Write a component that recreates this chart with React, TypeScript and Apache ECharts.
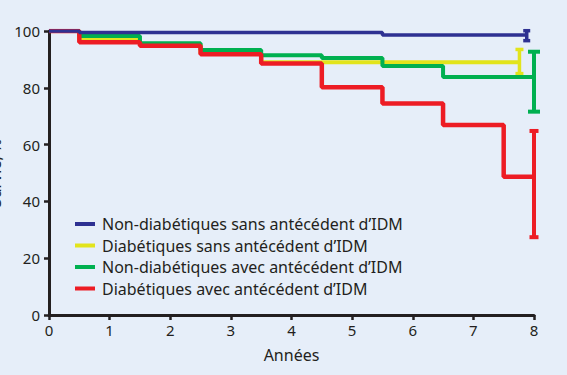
import React, { useEffect, useRef } from "react";
import * as echarts from "echarts";

const seriesNames = [
  "Non-diabétiques sans antécédent d’IDM",
  "Diabétiques sans antécédent d’IDM",
  "Non-diabétiques avec antécédent d’IDM",
  "Diabétiques avec antécédent d’IDM",
];

// Kaplan-Meier step points [year, survival %]
const blueSteps: [number, number][] = [
  [0, 100], [0.5, 99.5], [5.5, 98.6], [7.88, 98.6],
];
const yellowSteps: [number, number][] = [
  [0, 100], [0.5, 97], [1.5, 95.3], [2.5, 92.2], [3.5, 89], [7.76, 89],
];
const greenSteps: [number, number][] = [
  [0, 100], [0.5, 98.2], [1.5, 95.7], [2.5, 93.3], [3.5, 91.5], [4.5, 90.5],
  [5.5, 87.7], [6.5, 83.8], [8, 83.8],
];
const redSteps: [number, number][] = [
  [0, 100], [0.5, 96], [1.5, 94.8], [2.5, 91.8], [3.5, 88.6], [4.5, 80.2],
  [5.5, 74.5], [6.5, 66.9], [7.5, 48.7], [8, 48.7],
];

// error bars [year, low, high]
const blueErr: [number, number, number] = [7.88, 96.6, 100.1];
const yellowErr: [number, number, number] = [7.76, 85, 93.5];
const greenErr: [number, number, number] = [8, 71.6, 92.7];
const redErr: [number, number, number] = [8, 27.4, 64.8];

const xTicks = [0, 1, 2, 3, 4, 5, 6, 7, 8];
const yTicks = [0, 20, 40, 60, 80, 100];

const colors = ["#2e3192", "#e2e41c", "#00b050", "#ed1c24"];
const textColor = "#231f20";
const font = "Noto Sans";

function errSeries(name: string, d: [number, number, number], color: string, cap: number, width: number, z: number) {
  return {
    type: "custom",
    name,
    z,
    silent: true,
    data: [d],
    encode: { x: 0, y: [1, 2] },
    renderItem: (params: any, api: any) => {
      const x = api.value(0);
      const lo = api.coord([x, api.value(1)]);
      const hi = api.coord([x, api.value(2)]);
      const style = { stroke: color, lineWidth: width };
      return {
        type: "group",
        children: [
          { type: "line", shape: { x1: lo[0], y1: lo[1], x2: hi[0], y2: hi[1] }, style },
          { type: "line", shape: { x1: lo[0] - cap / 2, y1: lo[1], x2: lo[0] + cap / 2, y2: lo[1] }, style },
          { type: "line", shape: { x1: hi[0] - cap / 2, y1: hi[1], x2: hi[0] + cap / 2, y2: hi[1] }, style },
        ],
      };
    },
  };
}

export default function App() {
  const ref = useRef<HTMLDivElement>(null);
  useEffect(() => {
    if (!ref.current) return;
    const chart = echarts.init(ref.current, null, { renderer: "svg" });
    const lineSeries = (name: string, data: [number, number][], color: string, width: number, z: number) => ({
      type: "line",
      name,
      data,
      step: "end",
      showSymbol: false,
      symbol: "none",
      z,
      lineStyle: { color, width },
      itemStyle: { color },
    });
    chart.setOption({
      animation: false,
      backgroundColor: "#e6eef9",
      textStyle: { fontFamily: font, color: textColor },
      grid: { left: 49, right: 33, top: 31, bottom: 60, containLabel: false, outerBoundsMode: "none" },
      legend: {
        data: seriesNames,
        orient: "vertical",
        left: 75,
        top: 215,
        padding: 0,
        itemWidth: 20,
        itemHeight: 4,
        itemGap: 3.5,
        icon: "rect",
        textStyle: { fontSize: 16, color: textColor, fontFamily: font, lineHeight: 18, padding: [0, 0, 0, 2] },
        selectedMode: false,
      },
      xAxis: {
        type: "value",
        min: xTicks[0],
        max: xTicks[xTicks.length - 1],
        interval: 1,
        name: "Années",
        nameLocation: "middle",
        nameGap: 32,
        nameTextStyle: { fontSize: 16, color: textColor, fontFamily: font },
        axisLine: { lineStyle: { color: textColor, width: 3 } },
        axisTick: { length: 5, lineStyle: { color: textColor, width: 2.5 } },
        axisLabel: { fontSize: 15, color: textColor, margin: 7, fontFamily: font },
        splitLine: { show: false },
      },
      yAxis: {
        type: "value",
        min: yTicks[0],
        max: yTicks[yTicks.length - 1],
        interval: 20,
        name: "Survie, %",
        nameLocation: "middle",
        nameGap: 46,
        nameRotate: 90,
        nameTextStyle: { fontSize: 16, color: textColor, fontFamily: font },
        axisLine: { show: true, lineStyle: { color: textColor, width: 3 } },
        axisTick: { show: true, length: 5, lineStyle: { color: textColor, width: 2.5 } },
        axisLabel: { fontSize: 15, color: textColor, margin: 9, fontFamily: font },
        splitLine: { show: false },
      },
      series: [
        lineSeries(seriesNames[1], yellowSteps, colors[1], 4, 2),
        lineSeries(seriesNames[2], greenSteps, colors[2], 4, 3),
        lineSeries(seriesNames[3], redSteps, colors[3], 4.5, 4),
        lineSeries(seriesNames[0], blueSteps, colors[0], 3.5, 5),
        errSeries("errY", yellowErr, colors[1], 8, 3.5, 2),
        errSeries("errG", greenErr, colors[2], 12, 4, 3),
        errSeries("errR", redErr, colors[3], 9, 4, 4),
        errSeries("errB", blueErr, colors[0], 7, 3.5, 5),
      ],
    });
    return () => chart.dispose();
  }, []);
  return (
    <div
      ref={ref}
      style={{ position: "fixed", left: 0, top: 0, width: 567, height: 375 }}
    />
  );
}
